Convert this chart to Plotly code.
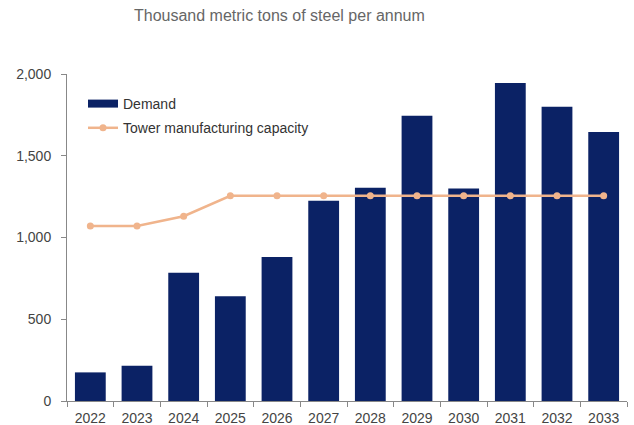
import plotly.graph_objects as go

years = ["2022", "2023", "2024", "2025", "2026", "2027", "2028", "2029", "2030", "2031", "2032", "2033"]
demand = [175, 215, 785, 640, 880, 1225, 1305, 1745, 1300, 1945, 1800, 1645]
capacity = [1070, 1070, 1130, 1255, 1255, 1255, 1255, 1255, 1255, 1255, 1255, 1255]
y_ticks = [0, 500, 1000, 1500, 2000]
y_tick_labels = ["0", "500", "1,000", "1,500", "2,000"]

navy = "#0b2265"
peach = "#f0b48c"
font_family = "Liberation Sans, Arial, sans-serif"

fig = go.Figure()
# legend-only entry drawn as a wide rectangle (thick line) for Demand
fig.add_trace(go.Scatter(x=[None], y=[None], name="Demand", mode="lines",
                         line=dict(color=navy, width=8), legendgroup="d"))
fig.add_trace(go.Bar(x=years, y=demand, name="Demand", marker_color=navy,
                     marker_line_width=0, showlegend=False, legendgroup="d"))
fig.add_trace(go.Scatter(x=years, y=capacity, name="Tower manufacturing capacity",
                         mode="lines+markers", line=dict(color=peach, width=2.5),
                         marker=dict(color=peach, size=7), legendgroup="c"))

fig.update_layout(
    width=634, height=425,
    margin=dict(l=67, r=7, t=74, b=24, autoexpand=False),
    paper_bgcolor="white", plot_bgcolor="white",
    font=dict(family=font_family, size=14, color="#444444"),
    bargap=0.34,
    showlegend=True,
    legend=dict(x=16 / 560, y=1 - 14 / 327, xanchor="left", yanchor="top",
                bgcolor="rgba(0,0,0,0)", font=dict(size=14, color="#333333"),
                tracegroupgap=3),
    annotations=[dict(text="Thousand metric tons of steel per annum",
                      x=(279 - 67) / 560, y=1 + (74 - 15) / 327,
                      xref="paper", yref="paper", showarrow=False,
                      xanchor="center", yanchor="middle",
                      font=dict(size=16, color="#666666"))],
)

fig.update_xaxes(type="category", range=[-0.5, len(years) - 0.5],
                 showline=True, linecolor="#888888", linewidth=1,
                 ticks="outside", tickson="boundaries", ticklen=5, tickcolor="#888888",
                 showgrid=False, automargin=False, ticklabelstandoff=4,
                 tickfont=dict(size=14, color="#444444"))
fig.update_yaxes(range=[0, 2000], tickvals=y_ticks, ticktext=y_tick_labels,
                 showline=True, linecolor="#888888", linewidth=1,
                 ticks="outside", ticklen=5, tickcolor="#888888",
                 showgrid=False, zeroline=False, automargin=False,
                 ticklabelstandoff=7, tickfont=dict(size=14, color="#444444"))

fig.write_html("out.html", config={"displayModeBar": False},
               post_script="document.body.style.margin='0';")
